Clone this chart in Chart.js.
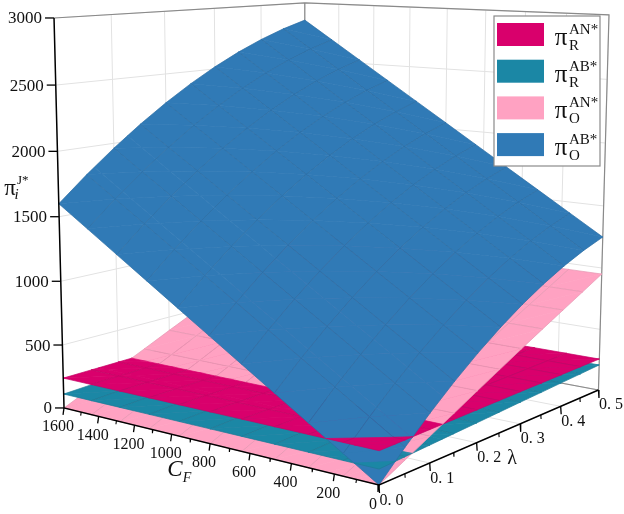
<!DOCTYPE html>
<html><head><meta charset="utf-8">
<script src="https://cdn.jsdelivr.net/npm/chart.js@4"></script>
<style>html,body{margin:0;padding:0;background:#fff}canvas{display:block}</style>
</head><body><canvas id="c" width="624" height="514" style="width:624px;height:514px"></canvas>
<script>
// ---- data ----
const cfGrid = [0,160,320,480,640,800,960,1120,1280,1440,1600];
const lambdaGrid = [0,0.05,0.1,0.15,0.2,0.25,0.3,0.35,0.4,0.45,0.5];
const piRAN = [238,240,242,244,246,248,250,251,253,255,256];
const piRAB = [111,121,130,140,149,159,169,178,188,197,207];
const piOAN = [0,97,194,290,388,484,580,674,766,858,951];
const piOAB = [
 [0,188,362,522,668,800,918,1022,1112,1188,1250],
 [160,348,522,682,828,960,1078,1182,1272,1348,1410],
 [320,508,682,842,988,1120,1238,1342,1432,1508,1570],
 [480,668,842,1002,1148,1280,1398,1502,1592,1668,1730],
 [640,828,1002,1162,1308,1440,1558,1662,1752,1828,1890],
 [800,988,1162,1322,1468,1600,1718,1822,1912,1988,2050],
 [960,1148,1322,1482,1628,1760,1878,1982,2072,2148,2210],
 [1120,1308,1482,1642,1788,1920,2038,2142,2232,2308,2370],
 [1280,1468,1642,1802,1948,2080,2198,2302,2392,2468,2530],
 [1440,1628,1802,1962,2108,2240,2358,2462,2552,2628,2690],
 [1600,1788,1962,2122,2268,2400,2518,2622,2712,2788,2850]];
const cfTicks = [0,200,400,600,800,1000,1200,1400,1600];
const cfMinorTicks = [100,300,500,700,900,1100,1300,1500];
const lambdaTicks = [0,0.1,0.2,0.3,0.4,0.5];
const lambdaMinorTicks = [0.05,0.15,0.25,0.35,0.45];
const lambdaTickLabels = ['0. 0','0. 1','0. 2','0. 3','0. 4','0. 5'];
const zTicks = [0,500,1000,1500,2000,2500,3000];
const seriesColors = ['#D9006C','#1B87A5','#FFA2C2','#307AB6'];
const meshColors = ['#C40566','#1C7A95','#E596B2','#2B6DA3'];
const seriesSup = ['AN*','AB*','AN*','AB*'];
const seriesSub = ['R','R','O','O'];

// ---- camera ----
const CFMAX=1600, LMAX=0.5, ZMAX=3000;
const FOOT_CF=-3456, FOOT_LAM=-1.5; // point of the floor plane under the viewer
function project(cf,lam,z){
  const u=cf/CFMAX,v=lam/LMAX,w=z/ZMAX;
  const d=1+0.156*u+0.2024*v-0.0436*w;
  return {x:(379-305*u+340.6*v-13.9*w)/d, y:(485-13.4*u-16.1*v-451.6*w)/d};
}
const P=(cf,l,z,dx=0,dy=0)=>{const p=project(cf,l,z);return {x:p.x+dx,y:p.y+dy};};

const paint=[];
function addLine(pts,color,width){
  paint.push({type:'scatter',data:pts,showLine:true,fill:false,borderColor:color,borderWidth:width,
    pointRadius:0,tension:0,clip:false,borderCapStyle:'butt'});
}
const GRID='#E2E2E2', BOX='#8A8A8A';
// back-wall and floor grid
cfTicks.forEach(cf=>{
  addLine([P(cf,0,0),P(cf,LMAX,0)],GRID,1);
  addLine([P(cf,LMAX,0),P(cf,LMAX,ZMAX)],GRID,1);
});
lambdaTicks.forEach(l=>{
  addLine([P(0,l,0),P(CFMAX,l,0)],GRID,1);
  addLine([P(CFMAX,l,0),P(CFMAX,l,ZMAX)],GRID,1);
});
zTicks.forEach(z=>{
  addLine([P(CFMAX,0,z),P(CFMAX,LMAX,z)],GRID,1);
  addLine([P(CFMAX,LMAX,z),P(0,LMAX,z)],GRID,1);
});
// box edges behind the surfaces
addLine([P(CFMAX,0,ZMAX),P(CFMAX,LMAX,ZMAX),P(0,LMAX,ZMAX),P(0,LMAX,0)],BOX,1.2);
addLine([P(CFMAX,LMAX,ZMAX),P(CFMAX,LMAX,0)],BOX,1.2);
addLine([P(CFMAX,0,0),P(CFMAX,LMAX,0),P(0,LMAX,0)],BOX,1.2);

// ---- surfaces, back to front, split where they cross ----
function zAt(s,i,j){
  if(s===0) return piRAN[j];
  if(s===1) return piRAB[j];
  if(s===2) return piOAN[j];
  return piOAB[i][j];
}
function node(i,j){return {cf:cfGrid[i],lam:lambdaGrid[j],z:[0,1,2,3].map(s=>zAt(s,i,j))};}
function mix(a,b,t){return {cf:a.cf+(b.cf-a.cf)*t,lam:a.lam+(b.lam-a.lam)*t,z:a.z.map((v,k)=>v+(b.z[k]-v)*t)};}
function splitBy(poly,a,b,footDiff){
  const ds=poly.map(p=>p.z[a]-p.z[b]);
  if(ds.every(d=>d>=-1e-6)||ds.every(d=>d<=1e-6)) return [poly];
  const pos=[],neg=[];
  poly.forEach((p,k)=>{
    const q=poly[(k+1)%poly.length],d0=ds[k],d1=ds[(k+1)%poly.length];
    if(d0>=0)pos.push(p); if(d0<=0)neg.push(p);
    if(d0*d1<0){const m=mix(p,q,d0/(d0-d1));pos.push(m);neg.push(m);}
  });
  // the part on the viewer's side of the crossing line is painted last
  return (footDiff>0?[neg,pos]:[pos,neg]).filter(x=>x.length>2);
}
const onGrid=(arr,v)=>arr.some(g=>Math.abs(g-v)<1e-7);
function addPiece(poly,s){
  const pts=poly.map(p=>P(p.cf,p.lam,p.z[s]));
  pts.push(pts[0]);
  const edge=poly.map((p,k)=>{
    const q=poly[(k+1)%poly.length];
    const mesh=(Math.abs(p.cf-q.cf)<1e-7&&onGrid(cfGrid,p.cf))||(Math.abs(p.lam-q.lam)<1e-7&&onGrid(lambdaGrid,p.lam));
    return mesh?meshColors[s]:seriesColors[s];
  });
  paint.push({type:'scatter',data:pts,showLine:true,fill:false,polyFill:seriesColors[s],
    borderColor:seriesColors[s],borderWidth:0.7,pointRadius:0,tension:0,clip:false,
    segment:{borderColor:c=>edge[c.p0DataIndex]}});
}
function addTriangle(tri){
  const [p,q,r]=tri;
  const det=(q.lam-r.lam)*(p.cf-r.cf)+(r.cf-q.cf)*(p.lam-r.lam);
  const w1=((q.lam-r.lam)*(FOOT_CF-r.cf)+(r.cf-q.cf)*(FOOT_LAM-r.lam))/det;
  const w2=((r.lam-p.lam)*(FOOT_CF-r.cf)+(p.cf-r.cf)*(FOOT_LAM-r.lam))/det;
  const w3=1-w1-w2;
  const footZ=s=>w1*p.z[s]+w2*q.z[s]+w3*r.z[s];
  let polys=[tri];
  for(let a=0;a<4;a++)for(let b=a+1;b<4;b++){
    const fd=footZ(a)-footZ(b);
    polys=polys.flatMap(poly=>splitBy(poly,a,b,fd));
  }
  polys.forEach(poly=>{
    const mean=[0,1,2,3].map(s=>poly.reduce((t,v)=>t+v.z[s],0)/poly.length);
    [0,1,2,3].sort((a,b)=>mean[a]-mean[b]).forEach(s=>addPiece(poly,s));
  });
}
for(let i=cfGrid.length-2;i>=0;i--){
  for(let j=lambdaGrid.length-2;j>=0;j--){
    const a=node(i,j),b=node(i+1,j),c=node(i+1,j+1),d=node(i,j+1);
    addTriangle([b,c,d]);
    addTriangle([a,b,d]);
  }
}

// ---- black axes and ticks ----
addLine([P(CFMAX,0,ZMAX),P(CFMAX,0,0),P(0,0,0),P(0,LMAX,0)],'#000',1.5);
cfTicks.forEach(cf=>addLine([P(cf,0,0),P(cf,0,0,-1,7)],'#000',1.3));
cfMinorTicks.forEach(cf=>addLine([P(cf,0,0),P(cf,0,0,-0.5,3.5)],'#000',1.1));
lambdaTicks.forEach(l=>addLine([P(0,l,0),P(0,l,0,0.5,8)],'#000',1.3));
lambdaMinorTicks.forEach(l=>addLine([P(0,l,0),P(0,l,0,0.3,4)],'#000',1.1));
zTicks.forEach(z=>addLine([P(CFMAX,0,z),P(CFMAX,0,z,-9,0)],'#000',1.3));

// ---- polygon fill through the points the library placed ----
const polygonFill={id:'polygonFill',beforeDatasetDraw(chart,args){
  const ds=chart.data.datasets[args.index];
  if(!ds.polyFill) return;
  const ctx=chart.ctx,pts=args.meta.data;
  ctx.save();ctx.beginPath();
  pts.forEach((p,k)=>k?ctx.lineTo(p.x,p.y):ctx.moveTo(p.x,p.y));
  ctx.closePath();ctx.fillStyle=ds.polyFill;ctx.fill();ctx.restore();
}};

// ---- text and legend ----
const SERIF='"Liberation Serif", serif';
function txt(ctx,s,x,y,size,align='center',italic=false){
  ctx.font=(italic?'italic ':'')+size+'px '+SERIF;
  ctx.textAlign=align;ctx.textBaseline='alphabetic';ctx.fillStyle='#111';
  ctx.fillText(s,x,y);
}
const overlay={id:'overlay',afterDatasetsDraw(chart){
  const ctx=chart.ctx,sx=chart.scales.x,sy=chart.scales.y;
  const X=v=>sx.getPixelForValue(v),Y=v=>sy.getPixelForValue(v);
  ctx.save();
  cfTicks.forEach(cf=>{const p=P(cf,0,0);txt(ctx,String(cf),X(p.x-6),Y(p.y+23.5),16);});
  lambdaTicks.forEach((l,k)=>{const p=P(0,l,0);txt(ctx,lambdaTickLabels[k],X(p.x+12.5),Y(p.y+19.5),16);});
  zTicks.forEach(z=>{const p=P(CFMAX,0,z);txt(ctx,String(z),X(p.x-12),Y(p.y+5.5),17,'right');});
  // axis titles
  txt(ctx,'C',X(175),Y(476),23,'center',true);
  txt(ctx,'F',X(187),Y(482),14,'center',true);
  txt(ctx,'λ',X(512),Y(464),20);
  txt(ctx,'π',X(10),Y(195),23);
  txt(ctx,'J*',X(17),Y(184),13,'left');
  txt(ctx,'i',X(16.5),Y(199),15,'center',true);
  // legend
  const bx=494,by=16,bw=106,bh=150;
  ctx.fillStyle='#fff';ctx.strokeStyle=BOX;ctx.lineWidth=1.2;
  ctx.fillRect(X(bx),Y(by),bw,bh);ctx.strokeRect(X(bx),Y(by),bw,bh);
  seriesColors.forEach((col,k)=>{
    const top=by+7+k*36.7;
    ctx.fillStyle=col;ctx.fillRect(X(497),Y(top),47,23);
    txt(ctx,'π',X(561),Y(top+22),25);
    txt(ctx,seriesSup[k],X(569),Y(top+11),15,'left');
    txt(ctx,seriesSub[k],X(569),Y(top+27),15,'left');
  });
  ctx.restore();
}};

new Chart(document.getElementById('c').getContext('2d'),{
  data:{datasets:paint.slice().reverse()},
  plugins:[polygonFill,overlay],
  options:{responsive:false,animation:false,events:[],
    layout:{padding:0},
    scales:{x:{type:'linear',min:0,max:624,display:false},
            y:{type:'linear',min:0,max:514,reverse:true,display:false}},
    plugins:{legend:{display:false},tooltip:{enabled:false},title:{display:false}}}
});
</script></body></html>
